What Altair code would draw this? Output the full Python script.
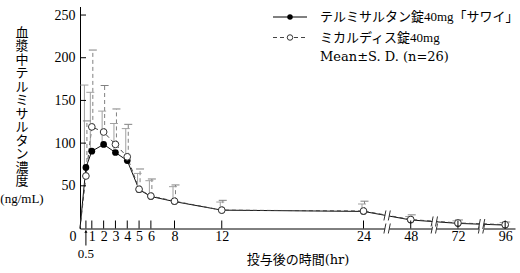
import altair as alt
import pandas as pd

# ---------------- data ----------------
times = [0, 0.5, 1, 2, 3, 4, 5, 6, 8, 12, 24, 48, 72, 96]
sawai_mean = [0, 71.5, 90.5, 98.5, 89, 79.5, 45.5, 37.5, 31.5, 21.5, 20, 10, 6, 4]
sawai_sd = [0, 96.5, 69, 39, 34, 37.5, 19, 18.5, 17.5, 9.5, 8.7, 4, 3, 3]
micardis_mean = [0, 61.5, 119, 113, 98.5, 84, 46, 38, 32, 21.5, 20.5, 10.5, 6.5, 4.5]
micardis_sd = [0, 64.5, 90, 54.5, 41.5, 38, 23.7, 20, 19, 11.5, 11.5, 5.5, 3.5, 3.1]

x_tick_values = [0.5, 1, 2, 3, 4, 5, 6, 8, 12, 24, 48, 72, 96]
x_label_values = [1, 2, 3, 4, 5, 6, 8, 12, 24, 48, 72, 96]
y_tick_values = [50, 100, 150, 200, 250]
break_times = [36, 60, 84]

legend_labels = ["テルミサルタン錠40mg「サワイ」", "ミカルディス錠40mg", "Mean±S. D. (n=26)"]
y_title = "血漿中テルミサルタン濃度"
y_unit = "(ng/mL)"
x_title = "投与後の時間(hr)"

SERIF = "Liberation Serif, Noto Sans CJK JP"
WIDE = "DejaVu Serif, Noto Sans CJK JP"
legend_fonts = [SERIF, SERIF, WIDE]

# ---------------- tables ----------------
def series_df(name, mean, sd):
    return pd.DataFrame({
        "series": name, "time": times, "mean": mean, "sd": sd,
        "upper": [m + s for m, s in zip(mean, sd)],
    })

saw = series_df("sawai", sawai_mean, sawai_sd)
mic = series_df("micardis", micardis_mean, micardis_sd)
saw_pts = saw[saw.time > 0]
mic_pts = mic[mic.time > 0]

# break marker positions on the data line (between neighbouring samples)
brk_rows = []
for b in break_times:
    i = max(k for k, t in enumerate(times) if t < b)
    yv = (saw["mean"][i] + saw["mean"][i + 1] + mic["mean"][i] + mic["mean"][i + 1]) / 4
    brk_rows.append({"time": b, "y": yv, "zero": 0})
brk = pd.DataFrame(brk_rows)

xt = pd.DataFrame({"time": x_tick_values})
yt = pd.DataFrame({"v": y_tick_values})
one = pd.DataFrame({"a": [0]})

W, H = 435, 222
xscale = alt.Scale(domain=[0, 24, 101], range=[0, 283.5, W], nice=False)
yscale = alt.Scale(domain=[0, 260], nice=False)

xaxis = alt.Axis(values=x_label_values, title=None, ticks=False, grid=False,
                 labelPadding=1, labelFont=SERIF, labelFontSize=14, labelColor="black",
                 domainColor="black", domainWidth=1, labelFlush=False, labelOverlap=False)
yaxis = alt.Axis(values=y_tick_values, title=None, ticks=False, grid=False,
                 labelPadding=5, labelFont=SERIF, labelFontSize=14, labelColor="black",
                 domainColor="black", domainWidth=1, labelOverlap=False)

def X(f="time"):
    return alt.X(f, type="quantitative", scale=xscale, axis=xaxis)

def Y(f="mean"):
    return alt.Y(f, type="quantitative", scale=yscale, axis=yaxis)

# ---------------- layers ----------------
saw_err = alt.Chart(saw_pts).mark_rule(color="#a0a0a0", strokeWidth=1, xOffset=-1.5).encode(
    x=X(), y=Y("mean"), y2="upper")
saw_cap = alt.Chart(saw_pts).mark_tick(orient="horizontal", size=8, thickness=1,
                                       color="#a0a0a0", xOffset=-1.5, opacity=1).encode(
    x=X(), y=Y("upper"))
mic_err = alt.Chart(mic_pts).mark_rule(color="#808080", strokeWidth=1, strokeDash=[4, 3],
                                       xOffset=1).encode(
    x=X(), y=Y("mean"), y2="upper")
mic_cap = alt.Chart(mic_pts).mark_tick(orient="horizontal", size=8, thickness=1,
                                       color="#808080", xOffset=1, opacity=1).encode(
    x=X(), y=Y("upper"))

saw_line = alt.Chart(saw).mark_line(color="#111111", strokeWidth=1).encode(x=X(), y=Y())
mic_line = alt.Chart(mic).mark_line(color="#444444", strokeWidth=1, strokeDash=[4, 3]).encode(
    x=X(), y=Y())

saw_pt = alt.Chart(saw_pts).mark_point(shape="circle", filled=True, color="black",
                                       size=45, opacity=1).encode(x=X(), y=Y())
mic_pt = alt.Chart(mic_pts).mark_point(shape="circle", filled=True, fill="white",
                                       stroke="#333333", strokeWidth=1, size=45,
                                       opacity=1).encode(x=X(), y=Y())

# axis ticks (inward)
x_ticks = alt.Chart(xt).mark_rule(color="black", strokeWidth=1).encode(
    x=X(), y=alt.value(H), y2=alt.value(H - 8))
y_ticks = alt.Chart(yt).mark_rule(color="black", strokeWidth=1).encode(
    y=Y("v"), x=alt.value(0), x2=alt.value(6))

# axis / line breaks: white gap + two short slanted strokes
def break_layers(yfield):
    cover = alt.Chart(brk).mark_tick(orient="vertical", size=11, thickness=4,
                                     color="white", opacity=1).encode(x=X(), y=Y(yfield))
    out = [cover]
    for dx in (-2.2, 2.2):
        out.append(alt.Chart(brk).mark_rule(color="#333333", strokeWidth=1,
                                            xOffset=dx - 1, x2Offset=dx + 1,
                                            yOffset=5, y2Offset=-5).encode(
            x=X(), x2="time", y=Y(yfield), y2=yfield))
    return out

brk_axis = break_layers("zero")
brk_line = break_layers("y")

# origin, 0.5 label and arrow
zero_lbl = alt.Chart(one).mark_text(text="0", font=SERIF, fontSize=14, color="black").encode(
    x=alt.value(-7), y=alt.value(H + 8.5))
half = pd.DataFrame({"time": [0.5]})
half_lbl = alt.Chart(half).mark_text(text="0.5", font=SERIF, fontSize=13, color="black").encode(
    x=X(), y=alt.value(H + 25.5))
half_arrow = alt.Chart(half).mark_rule(color="black", strokeWidth=1).encode(
    x=X(), y=alt.value(H + 17), y2=alt.value(H + 2))
half_head = alt.Chart(half).mark_point(shape="triangle-up", filled=True, color="black",
                                       size=10, opacity=1).encode(x=X(), y=alt.value(H + 3))

# titles
ytitle = alt.Chart(one).mark_text(text="\n".join(y_title), lineBreak="\n", lineHeight=13.5,
                                  font=SERIF, fontSize=13, baseline="top", align="center",
                                  color="black").encode(
    x=alt.value(-58), y=alt.value(20))
yunit = alt.Chart(one).mark_text(text=y_unit, font=SERIF, fontSize=13, color="black").encode(
    x=alt.value(-58), y=alt.value(192.5))
xtitle = alt.Chart(one).mark_text(text=x_title, font=WIDE, fontSize=13, color="black").encode(
    x=alt.value(218), y=alt.value(253.5))

# legend
LX0, LX1, LTX = 193, 227, 240
ly = [10.5, 31, 50.5]
leg_l1 = alt.Chart(one).mark_rule(color="black", strokeWidth=1).encode(
    x=alt.value(LX0), x2=alt.value(LX1), y=alt.value(ly[0]))
leg_p1 = alt.Chart(one).mark_point(shape="circle", filled=True, color="black", size=30,
                                   opacity=1).encode(x=alt.value((LX0 + LX1) / 2), y=alt.value(ly[0]))
leg_l2 = alt.Chart(one).mark_rule(color="#444444", strokeWidth=1, strokeDash=[4, 3]).encode(
    x=alt.value(LX0), x2=alt.value(LX1), y=alt.value(ly[1]))
leg_p2 = alt.Chart(one).mark_point(shape="circle", filled=True, fill="white", stroke="#333333",
                                   strokeWidth=1, size=30, opacity=1).encode(
    x=alt.value((LX0 + LX1) / 2), y=alt.value(ly[1]))
leg_t = [alt.Chart(one).mark_text(text=t, font=f, fontSize=13, align="left",
                                  color="black").encode(x=alt.value(LTX), y=alt.value(yy))
         for t, f, yy in zip(legend_labels, legend_fonts, ly)]

chart = alt.layer(
    saw_line, mic_line,
    saw_err, mic_err, saw_cap, mic_cap,
    saw_pt, mic_pt,
    x_ticks, y_ticks,
    *brk_axis, *brk_line,
    zero_lbl, half_lbl, half_arrow, half_head,
    ytitle, yunit, xtitle,
    leg_l1, leg_p1, leg_l2, leg_p2, *leg_t,
).properties(
    width=W, height=H,
    padding={"left": 80, "top": 6.5, "right": 5, "bottom": 44.5},
    autosize="none",
    background="white",
).configure_view(stroke=None)

chart.save("out.html", embed_options={"renderer": "svg", "actions": False})
